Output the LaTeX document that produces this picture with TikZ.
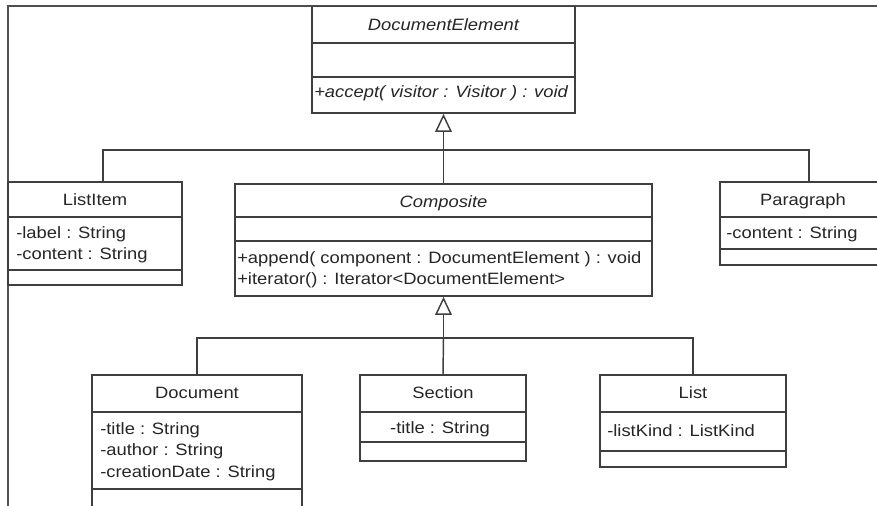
\documentclass[tikz,border=0pt]{standalone}
\usepackage{fontspec}
\setmainfont[FakeStretch=1.12]{Liberation Sans}
\usetikzlibrary{arrows.meta,fit}
\definecolor{ink}{HTML}{262626}
\definecolor{edge}{HTML}{3F3F3F}
\definecolor{framec}{HTML}{505050}
\begin{document}
\begin{tikzpicture}[x=0.75pt,y=-0.75pt,
  classbox/.style={draw=edge, line width=1.3pt, inner sep=0pt, fill=white},
  divider/.style={draw=edge, line width=1.3pt},
  txt/.style={inner sep=0pt, text=ink, font=\fontsize{12.3pt}{16pt}\selectfont},
  title/.style={txt, anchor=base},
  member/.style={txt, anchor=base west},
  conn/.style={draw=edge, line width=1.1pt},
  gen/.style={conn, -{Triangle[open, length=13.5pt, width=12.5pt, line width=1.1pt]}},
  frameline/.style={draw=framec, line width=1.5pt}
]
\useasboundingbox (0,0) rectangle (877,506);
\begin{scope}
\clip (0,0) rectangle (877,506);

% window frame
\draw[frameline] (877,6.5) -- (8,6.5) -- (8,506);

% ---- DocumentElement
\node[classbox, fit={(312,6.5) (575,113)}] (elem) {};
\draw[divider] (elem.west |- 0,43) -- (elem.east |- 0,43);
\draw[divider] (elem.west |- 0,77) -- (elem.east |- 0,77);
\node[title, font=\fontsize{12.3pt}{16pt}\selectfont\itshape] (elemT) at (443.5,31) {DocumentElement};
\node[member, font=\fontsize{12.3pt}{16pt}\selectfont\itshape] (elemO) at (314,98) {+accept( visitor : Visitor ) : void};

% ---- ListItem
\node[classbox, fit={(8,182) (182,285)}] (item) {};
\draw[divider] (item.west |- 0,217) -- (item.east |- 0,217);
\draw[divider] (item.west |- 0,270) -- (item.east |- 0,270);
\node[title] (itemT) at (95,205) {ListItem};
\node[member] (itemA1) at (16,238) {-label : String};
\node[member] (itemA2) at (16,259.5) {-content : String};

% ---- Composite
\node[classbox, fit={(235,184) (652,296)}] (comp) {};
\draw[divider] (comp.west |- 0,217) -- (comp.east |- 0,217);
\draw[divider] (comp.west |- 0,241) -- (comp.east |- 0,241);
\node[title, font=\fontsize{12.3pt}{16pt}\selectfont\itshape] (compT) at (443.5,207) {Composite};
\node[member] (compO1) at (237,263) {+append( component : DocumentElement ) : void};
\node[member] (compO2) at (237,284.5) {+iterator() : Iterator<DocumentElement>};

% ---- Paragraph
\node[classbox, fit={(720,182) (890,265)}] (para) {};
\draw[divider] (para.west |- 0,217) -- (para.east |- 0,217);
\draw[divider] (para.west |- 0,249) -- (para.east |- 0,249);
\node[title] (paraT) at (803,205) {Paragraph};
\node[member] (paraA) at (726,238) {-content : String};

% ---- Document
\node[classbox, fit={(92,375) (302,530)}] (doc) {};
\draw[divider] (doc.west |- 0,412) -- (doc.east |- 0,412);
\draw[divider] (doc.west |- 0,489) -- (doc.east |- 0,489);
\node[title] (docT) at (197,398) {Document};
\node[member] (docA1) at (100,434) {-title : String};
\node[member] (docA2) at (100,455.5) {-author : String};
\node[member] (docA3) at (100,477) {-creationDate : String};

% ---- Section
\node[classbox, fit={(360,375) (526,461)}] (sec) {};
\draw[divider] (sec.west |- 0,412) -- (sec.east |- 0,412);
\draw[divider] (sec.west |- 0,442) -- (sec.east |- 0,442);
\node[title] (secT) at (443,398) {Section};
\node[title] (secA) at (440,433) {-title : String};

% ---- List
\node[classbox, fit={(600,375) (786,467)}] (list) {};
\draw[divider] (list.west |- 0,412) -- (list.east |- 0,412);
\draw[divider] (list.west |- 0,451) -- (list.east |- 0,451);
\node[title] (listT) at (693,398) {List};
\node[member] (listA) at (607,436) {-listKind : ListKind};

% ---- generalisation: upper level
\coordinate (busA) at (443.5,150);
\coordinate (busAl) at (103,150);
\coordinate (busAr) at (809,150);
\draw[conn] (item.north -| busAl) -- (busAl) -- (busAr) -- (para.north -| busAr);
\draw[conn] (comp.north) -- (busA);
\draw[gen] (busA) -- (elem.south);

% ---- generalisation: lower level
\coordinate (busB) at (443.5,338);
\coordinate (busBl) at (197,338);
\coordinate (busBr) at (693,338);
\draw[conn] (doc.north) -- (busBl) -- (busBr) -- (list.north);
\draw[conn] (sec.north) -- (busB);
\draw[gen] (busB) -- (comp.south);
\end{scope}
\end{tikzpicture}
\end{document}
